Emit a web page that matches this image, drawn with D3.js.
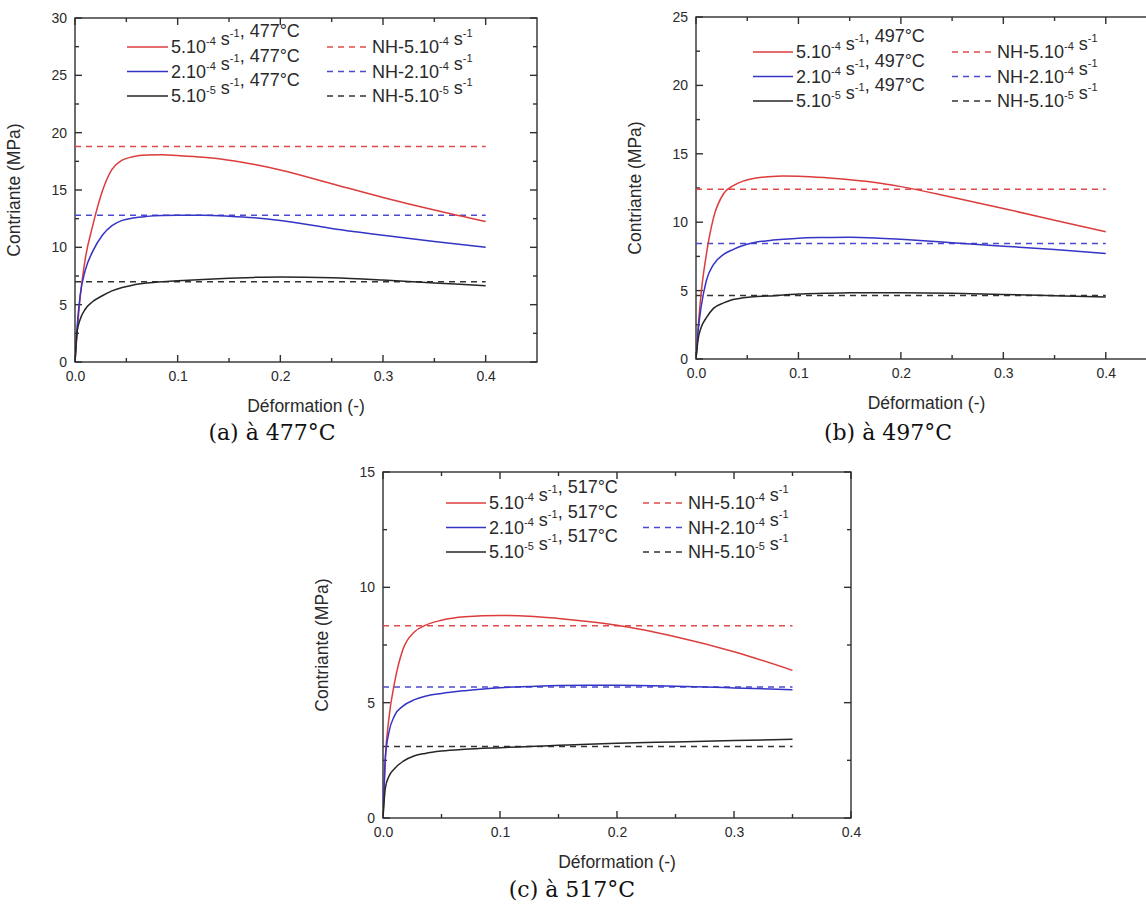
<!DOCTYPE html>
<html><head><meta charset="utf-8">
<script src="https://cdn.jsdelivr.net/npm/d3@7/dist/d3.min.js"></script>
<style>body{margin:0;background:#fff} svg{display:block}</style>
</head><body>
<svg id="chart" width="1146" height="905"></svg>
<script>
// ---------------- DATA ----------------
const strainAB = [0, 0.002, 0.005, 0.01, 0.017, 0.027, 0.036, 0.046, 0.056, 0.07, 0.085, 0.1, 0.125, 0.15, 0.175, 0.2, 0.25, 0.3, 0.35, 0.4];
const redA   = [0, 2.5, 5.6, 9.0, 11.8, 15.0, 16.8, 17.6, 17.9, 18.05, 18.07, 18.0, 17.85, 17.6, 17.22, 16.75, 15.55, 14.35, 13.25, 12.25];
const blueA  = [0, 3.0, 5.8, 8.0, 9.6, 11.1, 11.9, 12.35, 12.55, 12.7, 12.78, 12.8, 12.8, 12.72, 12.58, 12.35, 11.65, 11.05, 10.5, 10.0];
const blackA = [0, 2.6, 3.7, 4.6, 5.25, 5.8, 6.2, 6.5, 6.7, 6.88, 7.0, 7.08, 7.2, 7.3, 7.38, 7.42, 7.35, 7.15, 6.9, 6.65];
const nhA    = [18.8, 12.8, 7.0];

const redB   = [0, 2.2, 4.8, 7.6, 10.3, 12.1, 12.65, 13.0, 13.2, 13.32, 13.38, 13.36, 13.26, 13.1, 12.9, 12.6, 11.82, 11.0, 10.15, 9.3];
const blueB  = [0, 2.0, 3.8, 5.7, 6.9, 7.65, 8.0, 8.3, 8.5, 8.65, 8.75, 8.83, 8.88, 8.9, 8.85, 8.75, 8.5, 8.25, 8.0, 7.72];
const blackB = [0, 1.4, 2.3, 3.0, 3.7, 4.1, 4.35, 4.47, 4.55, 4.6, 4.68, 4.75, 4.8, 4.84, 4.85, 4.84, 4.8, 4.72, 4.62, 4.53];
const nhB    = [12.4, 8.45, 4.65];

const strainC = [0, 0.002, 0.005, 0.01, 0.017, 0.027, 0.036, 0.05, 0.07, 0.1, 0.125, 0.15, 0.175, 0.2, 0.25, 0.3, 0.35];
const redC   = [0, 2.6, 4.3, 5.9, 7.3, 8.07, 8.35, 8.57, 8.72, 8.78, 8.75, 8.65, 8.52, 8.36, 7.86, 7.21, 6.4];
const blueC  = [0, 2.6, 3.7, 4.45, 4.85, 5.13, 5.28, 5.4, 5.52, 5.65, 5.7, 5.74, 5.75, 5.75, 5.71, 5.64, 5.56];
const blackC = [0, 1.3, 1.8, 2.15, 2.45, 2.7, 2.8, 2.9, 2.98, 3.05, 3.1, 3.15, 3.2, 3.24, 3.3, 3.36, 3.41];
const nhC    = [8.33, 5.68, 3.1];

const rateMant = ["5.10", "2.10", "5.10"];
const rateExp  = ["-4", "-4", "-5"];
const temps    = ["477", "497", "517"];
const panelTitles = ["(a) à 477°C", "(b) à 497°C", "(c) à 517°C"];
const xTickValues = [0, 0.1, 0.2, 0.3, 0.4];
const yTicksA = [0, 5, 10, 15, 20, 25, 30];
const yTicksB = [0, 5, 10, 15, 20, 25];
const yTicksC = [0, 5, 10, 15];
const xLabel = "Déformation (-)";
const yLabel = "Contriante (MPa)";

// ---------------- STYLE / LAYOUT ----------------
const colors = ["#dc3c3c", "#3434c6", "#262626"];
const dashColors = ["#e04a4a", "#4a4ad0", "#333333"];
const panels = [
  {strain: strainAB, series: [redA, blueA, blackA], nh: nhA, nhEnd: 0.4, temp: temps[0], title: panelTitles[0], yTicks: yTicksA,
   left: 75, right: 537, top: 18, bottom: 362, xMax: 0.45, yMax: 30,
   leg: {x1: 127, x2: 168, tx: 171, nx1: 327, nx2: 369, ntx: 372, y0: 47, dy: 24.5},
   titleX: 272, titleY: 440},
  {strain: strainAB, series: [redB, blueB, blackB], nh: nhB, nhEnd: 0.4, temp: temps[1], title: panelTitles[1], yTicks: yTicksB,
   left: 696, right: 1157, top: 17, bottom: 359, xMax: 0.45, yMax: 25,
   leg: {x1: 753, x2: 793, tx: 796, nx1: 952, nx2: 994, ntx: 997, y0: 52, dy: 24.5},
   titleX: 888, titleY: 440},
  {strain: strainC, series: [redC, blueC, blackC], nh: nhC, nhEnd: 0.35, temp: temps[2], title: panelTitles[2], yTicks: yTicksC,
   left: 383, right: 851, top: 472, bottom: 818, xMax: 0.4, yMax: 15,
   leg: {x1: 446, x2: 486, tx: 489, nx1: 643, nx2: 684, ntx: 688, y0: 503, dy: 24.5},
   titleX: 572, titleY: 897}
];

const svg = d3.select("#chart");
const sans = "'Liberation Sans', Arial, sans-serif";
const serif = "'DejaVu Serif', 'Liberation Serif', serif";
const txtCol = "#2a2a2a";
const axCol = "#303030";

function supText(g, x, y, parts) {
  const t = g.append("text").attr("x", x).attr("y", y)
    .attr("font-family", sans).attr("font-size", 18).attr("fill", txtCol);
  parts.forEach(p => {
    if (p.sup) {
      t.append("tspan").attr("font-size", 11).attr("dy", -8).text(p.sup);
      t.append("tspan").attr("dy", 8).text("");
    } else {
      t.append("tspan").text(p.t);
    }
  });
  return t;
}

panels.forEach((p, pi) => {
  const x = d3.scaleLinear().domain([0, p.xMax]).range([p.left, p.right]);
  const y = d3.scaleLinear().domain([0, p.yMax]).range([p.bottom, p.top]);
  const g = svg.append("g");

  const clipId = "clip" + pi;
  g.append("clipPath").attr("id", clipId).append("rect")
    .attr("x", p.left).attr("y", p.top).attr("width", p.right - p.left).attr("height", p.bottom - p.top);

  const xMinor = d3.range(0.05, p.xMax - 1e-9, 0.1);
  const yMinor = d3.range(2.5, p.yMax, 5);

  // tick labels via d3 axes
  const labelStyle = sel => {
    sel.select(".domain").remove();
    sel.selectAll(".tick line").remove();
    sel.selectAll("text").attr("font-family", sans).attr("font-size", 14).attr("fill", txtCol);
  };
  g.append("g").attr("transform", `translate(0,${p.bottom})`)
    .call(d3.axisBottom(x).tickValues(xTickValues).tickSize(0).tickPadding(9).tickFormat(d3.format(".1f"))).call(labelStyle);
  g.append("g").attr("transform", `translate(${p.left},0)`)
    .call(d3.axisLeft(y).tickValues(p.yTicks).tickSize(0).tickPadding(8).tickFormat(d3.format("d"))).call(labelStyle);

  // inward tick marks on all four sides
  const tg = g.append("g").attr("stroke", axCol).attr("stroke-width", 1.4).attr("fill", "none");
  const xt = [...xTickValues.map(v => [v, 7]), ...xMinor.map(v => [v, 4])];
  const yt = [...p.yTicks.map(v => [v, 7]), ...yMinor.map(v => [v, 4])];
  tg.selectAll("line.xb").data(xt).join("line").attr("class", "xb")
    .attr("x1", d => x(d[0])).attr("x2", d => x(d[0])).attr("y1", p.bottom).attr("y2", d => p.bottom - d[1]);
  tg.selectAll("line.xt").data(xt).join("line").attr("class", "xt")
    .attr("x1", d => x(d[0])).attr("x2", d => x(d[0])).attr("y1", p.top).attr("y2", d => p.top + d[1]);
  tg.selectAll("line.yl").data(yt).join("line").attr("class", "yl")
    .attr("y1", d => y(d[0])).attr("y2", d => y(d[0])).attr("x1", p.left).attr("x2", d => p.left + d[1]);
  tg.selectAll("line.yr").data(yt).join("line").attr("class", "yr")
    .attr("y1", d => y(d[0])).attr("y2", d => y(d[0])).attr("x1", p.right).attr("x2", d => p.right - d[1]);

  // frame
  g.append("rect").attr("x", p.left).attr("y", p.top).attr("width", p.right - p.left).attr("height", p.bottom - p.top)
    .attr("fill", "none").attr("stroke", axCol).attr("stroke-width", 1.4);

  // NH dashed lines
  p.nh.forEach((v, i) => {
    g.append("path").attr("clip-path", `url(#${clipId})`)
      .attr("d", d3.line().x(d => x(d)).y(() => y(v))([0, p.nhEnd]))
      .attr("stroke", dashColors[i]).attr("stroke-width", 1.5).attr("stroke-dasharray", "6,5").attr("fill", "none");
  });

  // curves
  const line = d3.line().x((d, i) => x(p.strain[i])).y(d => y(d)).curve(d3.curveMonotoneX);
  p.series.forEach((s, i) => {
    g.append("path").attr("clip-path", `url(#${clipId})`).attr("d", line(s))
      .attr("stroke", colors[i]).attr("stroke-width", 1.5).attr("fill", "none");
  });

  // legend
  const L = p.leg;
  [0, 1, 2].forEach(i => {
    const yy = L.y0 + i * L.dy;
    g.append("line").attr("x1", L.x1).attr("x2", L.x2).attr("y1", yy).attr("y2", yy)
      .attr("stroke", colors[i]).attr("stroke-width", 1.5);
    supText(g, L.tx, yy + 6, [{t: rateMant[i]}, {sup: rateExp[i]}, {t: " s"}, {sup: "-1"}, {t: ", " + p.temp + "°C"}]);
    g.append("line").attr("x1", L.nx1).attr("x2", L.nx2).attr("y1", yy).attr("y2", yy)
      .attr("stroke", dashColors[i]).attr("stroke-width", 1.5).attr("stroke-dasharray", "6,5");
    supText(g, L.ntx, yy + 6, [{t: "NH-" + rateMant[i]}, {sup: rateExp[i]}, {t: " s"}, {sup: "-1"}]);
  });

  // axis titles
  g.append("text").attr("x", (p.left + p.right) / 2).attr("y", p.bottom + 50)
    .attr("text-anchor", "middle").attr("font-family", sans).attr("font-size", 17.5).attr("fill", txtCol).text(xLabel);
  g.append("text").attr("transform", `translate(${p.left - 55},${(p.top + p.bottom) / 2}) rotate(-90)`)
    .attr("text-anchor", "middle").attr("font-family", sans).attr("font-size", 17.5).attr("fill", txtCol).text(yLabel);

  // panel caption
  svg.append("text").attr("x", p.titleX).attr("y", p.titleY).attr("text-anchor", "middle")
    .attr("font-family", serif).attr("font-size", 22).attr("fill", "#111").text(p.title);
});
</script>
</body></html>
